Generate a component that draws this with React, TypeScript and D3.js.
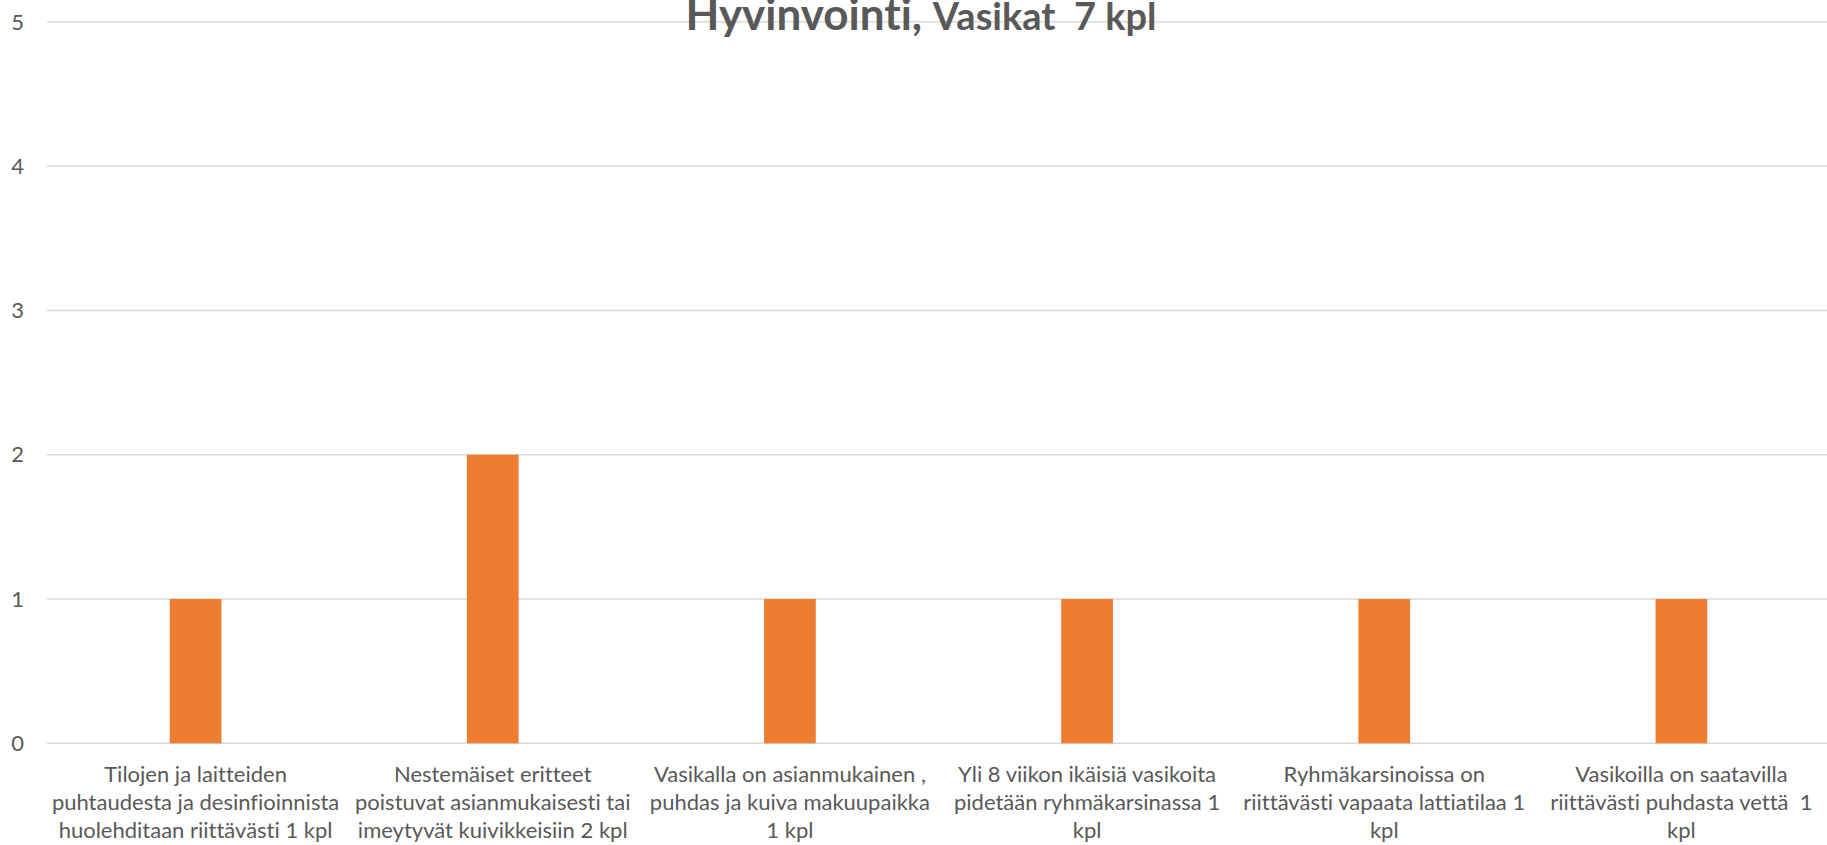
import * as React from "react";
import * as d3 from "d3";

const categories = [
  "Tilojen ja laitteiden\npuhtaudesta ja desinfioinnista\nhuolehditaan riittävästi 1 kpl",
  "Nestemäiset eritteet\npoistuvat asianmukaisesti tai\nimeytyvät kuivikkeisiin 2 kpl",
  "Vasikalla on asianmukainen ,\npuhdas ja kuiva makuupaikka\n1 kpl",
  "Yli 8 viikon ikäisiä vasikoita\npidetään ryhmäkarsinassa 1\nkpl",
  "Ryhmäkarsinoissa on\nriittävästi vapaata lattiatilaa 1\nkpl",
  "Vasikoilla on saatavilla\nriittävästi puhdasta vettä  1\nkpl",
];
const values = [1, 2, 1, 1, 1, 1];
const yTicks = [0, 1, 2, 3, 4, 5];
const titleMain = "Hyvinvointi, ";
const titleSub = "Vasikat  7 kpl";

const W = 1827;
const H = 845;
const FONT = "Lato, 'Open Sans', sans-serif";
const TEXT = "#595959";

export default function App() {
  const left = 47;
  const right = 1830;
  const top = 21.8;
  const bottom = 743.3;

  const x = d3
    .scaleBand<number>()
    .domain(d3.range(categories.length))
    .range([left, right])
    .paddingInner(0.826)
    .paddingOuter(0.413);
  const y = d3.scaleLinear().domain([0, 5]).range([bottom, top]);

  const grid = yTicks.map((t) => (
    <g key={"t" + t}>
      <line x1={left} x2={W} y1={y(t)} y2={y(t)} stroke="#D9D9D9" strokeWidth={1.5} />
      <text x={24} y={y(t)} dy="0.35em" textAnchor="end" fontSize={22} fill={TEXT} fontFamily={FONT}>
        {t}
      </text>
    </g>
  ));

  const bars = values.map((v, i) => (
    <rect
      key={"b" + i}
      x={x(i)}
      y={y(v)}
      width={x.bandwidth()}
      height={y(0) - y(v)}
      fill="#ED7D31"
    />
  ));

  const labels = categories.map((c, i) => {
    const cx = (x(i) as number) + x.bandwidth() / 2;
    return (
      <text key={"l" + i} textAnchor="middle" fontSize={22} fill={TEXT} fontFamily={FONT}>
        {c.split("\n").map((line, j) => (
          <tspan key={j} x={cx} y={782 + j * 28} style={{ whiteSpace: "pre" }}>
            {line}
          </tspan>
        ))}
      </text>
    );
  });

  return (
    <svg width={W} height={H} style={{ position: "absolute", left: 0, top: 0, fontVariantLigatures: "none" }}>
      <rect width={W} height={H} fill="#fff" />
      {grid}
      {bars}
      {labels}
      <text x={921} y={30} textAnchor="middle" fill={TEXT} fontFamily={FONT} fontWeight="bold" style={{ whiteSpace: "pre" }}>
        <tspan fontSize={44}>{titleMain}</tspan>
        <tspan fontSize={38}>{titleSub}</tspan>
      </text>
    </svg>
  );
}
